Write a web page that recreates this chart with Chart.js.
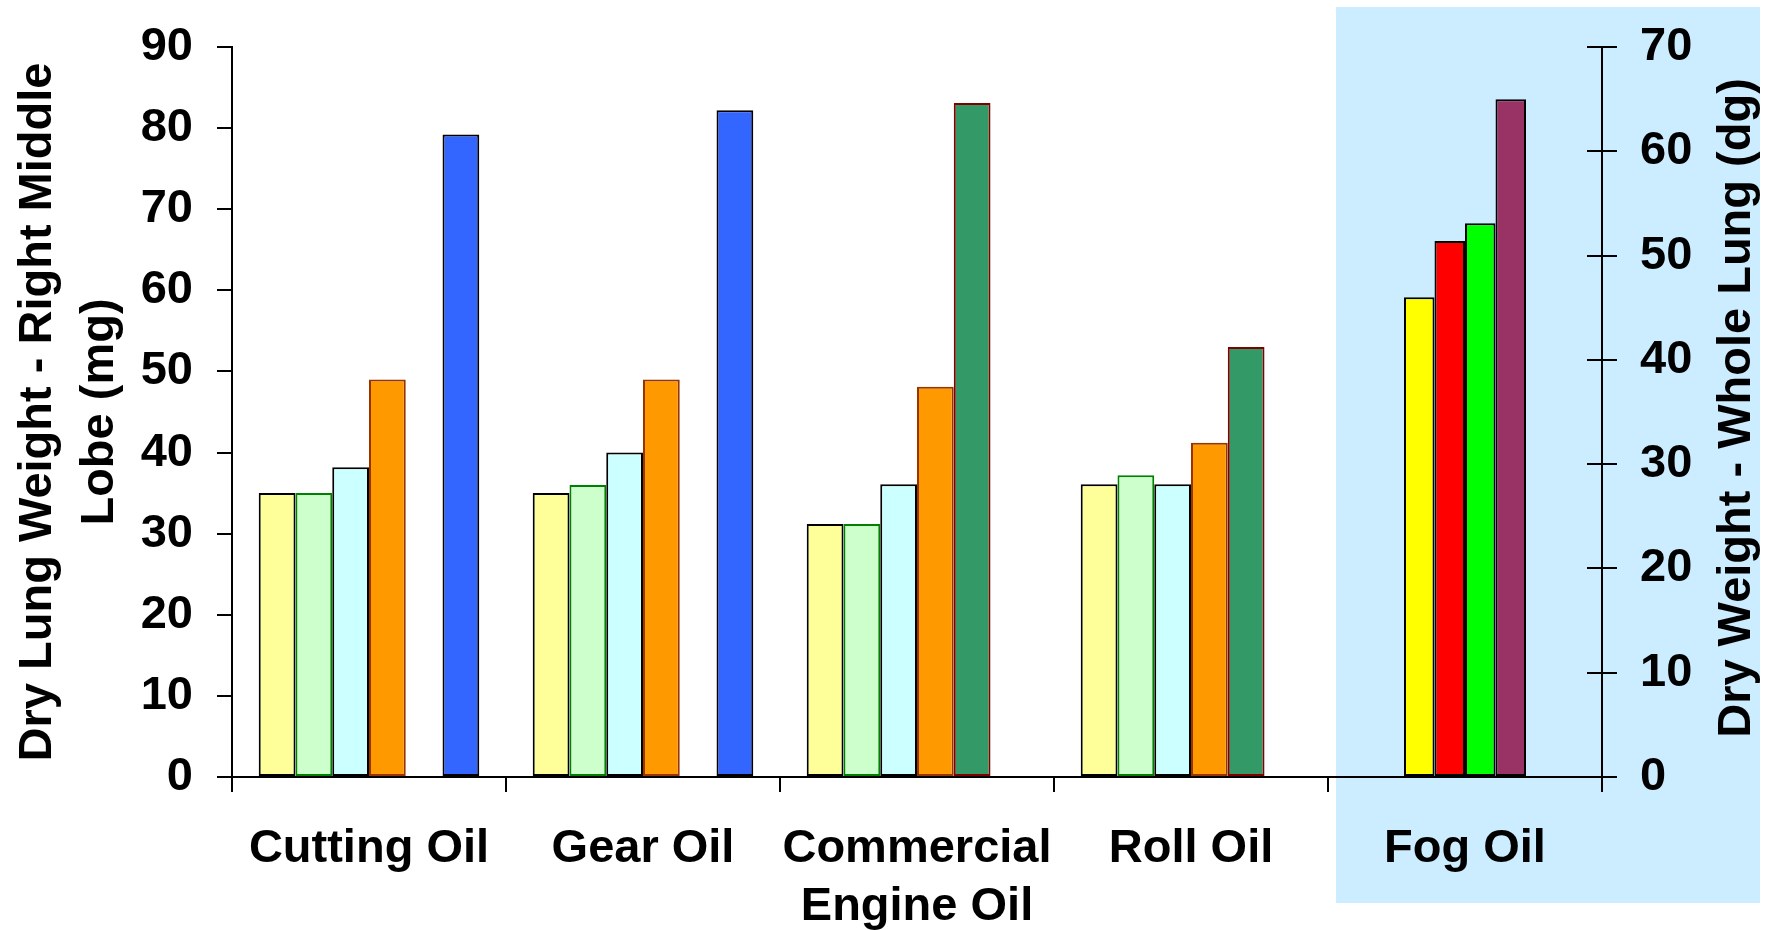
<!DOCTYPE html>
<html>
<head>
<meta charset="utf-8">
<title>Dry lung weight by oil type</title>
<script src="https://cdn.jsdelivr.net/npm/chart.js@4.4.1/dist/chart.umd.min.js"></script>
<style>
  html, body { margin: 0; padding: 0; background: #fff; }
  #wrap { position: relative; width: 1778px; height: 930px; }
</style>
</head>
<body>
<div id="wrap"><canvas id="lungChart"></canvas></div>
<script>
const categories = ['Cutting Oil', 'Gear Oil', ['Commercial', 'Engine Oil'], 'Roll Oil', 'Fog Oil'];

// right middle lobe, mg (left axis)
const paleYellow = [35, 35, 31.2, 36.1, null];
const paleGreen  = [35, 36, 31.2, 37.2, null];
const paleCyan   = [38.2, 40, 36.1, 36.1, null];
const orange     = [49, 49, 48.1, 41.2, null];
const seaGreen   = [null, null, 83.1, 53, null];
const blue       = [79.2, 82.2, null, null, null];

// whole lung, dg (right axis) - fog oil only
const fogYellow = [null, null, null, null, 46];
const fogRed    = [null, null, null, null, 51.4];
const fogGreen  = [null, null, null, null, 53.1];
const fogPurple = [null, null, null, null, 65];

const leftMax = 90, rightMax = 70, tickStep = 10;
const leftTitle = ['Dry Lung Weight - Right Middle', 'Lobe (mg)'];
const rightTitle = 'Dry Weight - Whole Lung (dg)';

const FONT = '"Liberation Sans", Arial, sans-serif';
const TICK_FONT = { family: FONT, size: 47, weight: 'bold', lineHeight: 1.23 };

// six slots per category; each series owns one slot (stack id)
function lobeBar(slot, data, fill, edge) {
    return {
        label: slot, stack: slot, data, backgroundColor: fill, borderColor: edge, borderWidth: 2,
        borderSkipped: false, yAxisID: 'y',
        categoryPercentage: 0.805, barPercentage: 1
    };
}
// fog oil bars sit in slots 2-5 of a narrower group, centred on the category
function fogBar(slot, data, fill) {
    return {
        label: 'fog ' + slot, stack: slot, data, backgroundColor: fill, borderColor: '#000000', borderWidth: 2,
        borderSkipped: false, yAxisID: 'y2',
        categoryPercentage: 0.668, barPercentage: 1
    };
}

// fixed axis box sizes; the top/bottom label overhang is covered by layout padding
function fitVertical(width) {
    return scale => {
        scale.width = width;
        scale.paddingTop = 20;
        scale.paddingBottom = 20;
    };
}

// light blue panel behind the fog oil group
const fogPanel = {
    id: 'fogPanel',
    beforeDraw(chart) {
        const ctx = chart.ctx;
        ctx.save();
        ctx.fillStyle = '#CCECFF';
        ctx.fillRect(1336, 7, 424, 896);
        ctx.restore();
    }
};

// right axis ticks cross the axis line; titles read bottom to top on both sides
const axisExtras = {
    id: 'axisExtras',
    afterDraw(chart) {
        const ctx = chart.ctx;
        const y2 = chart.scales.y2;
        ctx.save();
        ctx.strokeStyle = '#000';
        ctx.lineWidth = 2;
        y2.ticks.forEach(t => {
            const py = Math.round(y2.getPixelForValue(t.value));
            ctx.beginPath();
            ctx.moveTo(y2.left - 15, py);
            ctx.lineTo(y2.left, py);
            ctx.stroke();
        });

        ctx.font = 'bold 47px ' + FONT;
        ctx.fillStyle = '#000';
        ctx.textAlign = 'center';
        ctx.textBaseline = 'middle';

        ctx.save();
        ctx.translate(38, 412);
        ctx.rotate(-Math.PI / 2);
        ctx.fillText(leftTitle[0], 0, 0);
        ctx.fillText(leftTitle[1], 0, 62);
        ctx.restore();

        ctx.save();
        ctx.translate(1737, 408);
        ctx.rotate(-Math.PI / 2);
        ctx.fillText(rightTitle, 0, 0);
        ctx.restore();
        ctx.restore();
    }
};

new Chart(document.getElementById('lungChart'), {
    type: 'bar',
    data: {
        labels: categories,
        datasets: [
            lobeBar('s1', paleYellow, '#FFFF99', '#000000'),
            lobeBar('s2', paleGreen, '#CCFFCC', '#008000'),
            lobeBar('s3', paleCyan, '#CCFFFF', '#000000'),
            lobeBar('s4', orange, '#FF9900', '#993300'),
            lobeBar('s5', seaGreen, '#339966', '#800000'),
            lobeBar('s6', blue, '#3366FF', '#000000'),
            fogBar('s2', fogYellow, '#FFFF00'),
            fogBar('s3', fogRed, '#FF0000'),
            fogBar('s4', fogGreen, '#00FF00'),
            fogBar('s5', fogPurple, '#993366')
        ]
    },
    options: {
        responsive: true,
        maintainAspectRatio: false,
        animation: false,
        events: [],
        layout: { padding: { top: 47, left: 0, right: 0, bottom: 0 } },
        plugins: { legend: { display: false }, tooltip: { enabled: false } },
        scales: {
            x: {
                type: 'category',
                offset: true,
                border: { color: '#000', width: 2 },
                grid: { offset: true, drawOnChartArea: false, drawTicks: true, tickLength: 15, color: '#000', lineWidth: 2 },
                ticks: { color: '#000', font: TICK_FONT, padding: 28, maxRotation: 0, autoSkip: false },
                afterFit(scale) { scale.height = 153; }
            },
            y: {
                position: 'left',
                min: 0, max: leftMax,
                border: { color: '#000', width: 2 },
                grid: { drawOnChartArea: false, drawTicks: true, tickLength: 15, color: '#000', lineWidth: 2 },
                ticks: { stepSize: tickStep, color: '#000', font: TICK_FONT, padding: 24 },
                afterFit: fitVertical(232)
            },
            y2: {
                position: 'right',
                min: 0, max: rightMax,
                border: { color: '#000', width: 2 },
                grid: { drawOnChartArea: false, drawTicks: true, tickLength: 15, color: '#000', lineWidth: 2 },
                ticks: { stepSize: tickStep, color: '#000', font: TICK_FONT, padding: 23 },
                afterFit: fitVertical(176)
            }
        }
    },
    plugins: [fogPanel, axisExtras]
});
</script>
</body>
</html>
